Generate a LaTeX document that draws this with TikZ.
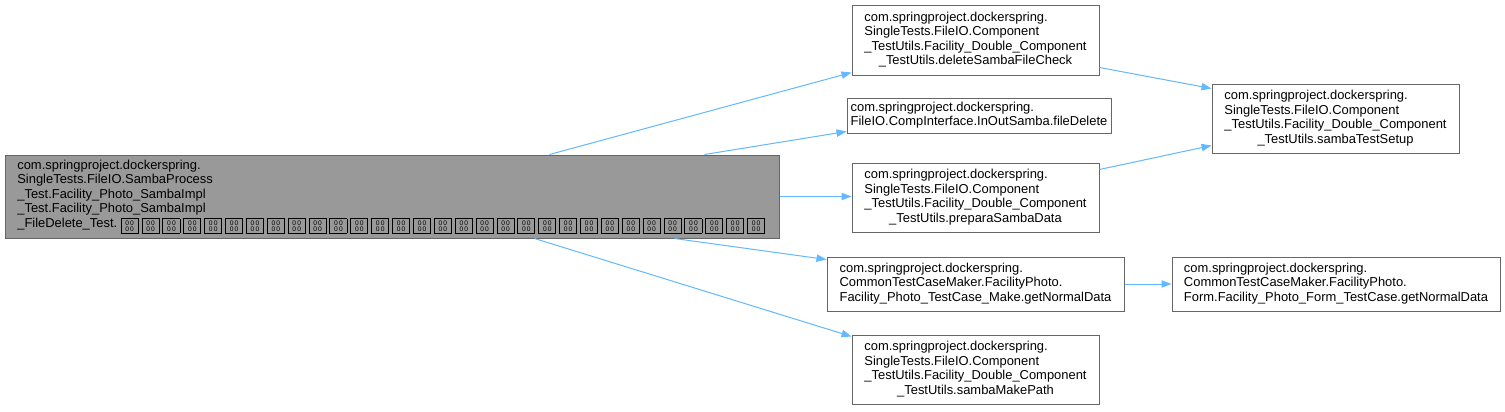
\documentclass[tikz,border=0pt]{standalone}
\usepackage{fontspec}
\setmainfont{Liberation Sans}
\usetikzlibrary{arrows.meta,calc}
\definecolor{edgeblue}{HTML}{63B8FF}
\definecolor{nodeborder}{HTML}{666666}
\definecolor{nodefill}{HTML}{999999}
\newcommand\tofu{\kern1.08pt\raisebox{-1.5pt}{\fboxsep0pt\fboxrule0.7pt\fbox{\parbox[c][10.3pt][c]{12.1pt}{\centering\fontsize{5}{5}\selectfont 0\,0\\0\,0}}}\kern1.08pt}
\newcommand\tofuten{\tofu\tofu\tofu\tofu\tofu\tofu\tofu\tofu\tofu\tofu}
\newcommand\lblc[2]{\begin{tabular}{@{}l@{}}#1\\\multicolumn{1}{@{}c@{}}{#2}\end{tabular}}
\newcommand\lbll[1]{\begin{tabular}{@{}l@{}}#1\end{tabular}}
\begin{document}
\begin{tikzpicture}[x=0.75pt,y=-0.75pt, font=\fontsize{9.7}{10.9}\selectfont,
  box/.style={draw=nodeborder, line width=0.75pt, fill=white, inner sep=0pt, rectangle},
  edge/.style={draw=edgeblue, line width=0.75pt, -{Triangle[length=7.5pt,width=5.5pt]}}]
\useasboundingbox (0,0) rectangle (1505,411);
\fill[white] (0,0) rectangle (1505,411);
\node[box, fill=nodefill, minimum width=580.5pt, minimum height=62.25pt] (A) at (392,196.5)
  {\begin{minipage}{562pt}\begin{tabular}{@{}l@{}}com.springproject.dockerspring.\\SingleTests.FileIO.SambaProcess\\\_Test.Facility\_Photo\_SambaImpl\\\_Test.Facility\_Photo\_SambaImpl\\\_FileDelete\_Test.\kern1.5pt\tofuten\tofuten\tofuten\tofu\end{tabular}\end{minipage}};
\node[box, minimum width=185.25pt, minimum height=52.5pt] (B) at (975.5,40)
  {\lblc{com.springproject.dockerspring.\\SingleTests.FileIO.Component\\\_TestUtils.Facility\_Double\_Component}{\_TestUtils.deleteSambaFileCheck}};
\node[box, minimum width=198pt, minimum height=26.25pt] (C) at (979,115.5)
  {\lbll{com.springproject.dockerspring.\\FileIO.CompInterface.InOutSamba.fileDelete}};
\node[box, minimum width=185.25pt, minimum height=51.75pt] (D) at (975.5,197.5)
  {\lblc{com.springproject.dockerspring.\\SingleTests.FileIO.Component\\\_TestUtils.Facility\_Double\_Component}{\_TestUtils.preparaSambaData}};
\node[box, minimum width=185.25pt, minimum height=51.75pt] (E) at (1335.5,118.5)
  {\lblc{com.springproject.dockerspring.\\SingleTests.FileIO.Component\\\_TestUtils.Facility\_Double\_Component}{\_TestUtils.sambaTestSetup}};
\node[box, minimum width=222.75pt, minimum height=40.5pt] (F) at (975.5,284)
  {\lbll{com.springproject.dockerspring.\\CommonTestCaseMaker.FacilityPhoto.\\Facility\_Photo\_TestCase\_Make.getNormalData}};
\node[box, minimum width=246pt, minimum height=40.5pt] (G) at (1336,284)
  {\lbll{com.springproject.dockerspring.\\CommonTestCaseMaker.FacilityPhoto.\\Form.Facility\_Photo\_Form\_TestCase.getNormalData}};
\node[box, minimum width=185.25pt, minimum height=51.75pt] (H) at (975.5,369.5)
  {\lblc{com.springproject.dockerspring.\\SingleTests.FileIO.Component\\\_TestUtils.Facility\_Double\_Component}{\_TestUtils.sambaMakePath}};
\draw[edge] ($(A.north west)+(545,0)$) -- ($(B.south west)+(0,-3)$);
\draw[edge] ($(A.north west)+(700,0)$) -- ($(C.south west)+(0,-2)$);
\draw[edge] (A.east) -- (A.east -| D.west);
\draw[edge] ($(A.south west)+(670,0)$) -- ($(F.north west)+(0,3)$);
\draw[edge] ($(A.south west)+(530,0)$) -- ($(H.north west)+(0,2)$);
\draw[edge] ($(B.south east)+(0,-8)$) -- ($(E.north west)+(0,5)$);
\draw[edge] ($(D.north east)+(0,7)$) -- ($(E.south west)+(0,-8)$);
\draw[edge] (F.east) -- (F.east -| G.west);
\end{tikzpicture}
\end{document}
